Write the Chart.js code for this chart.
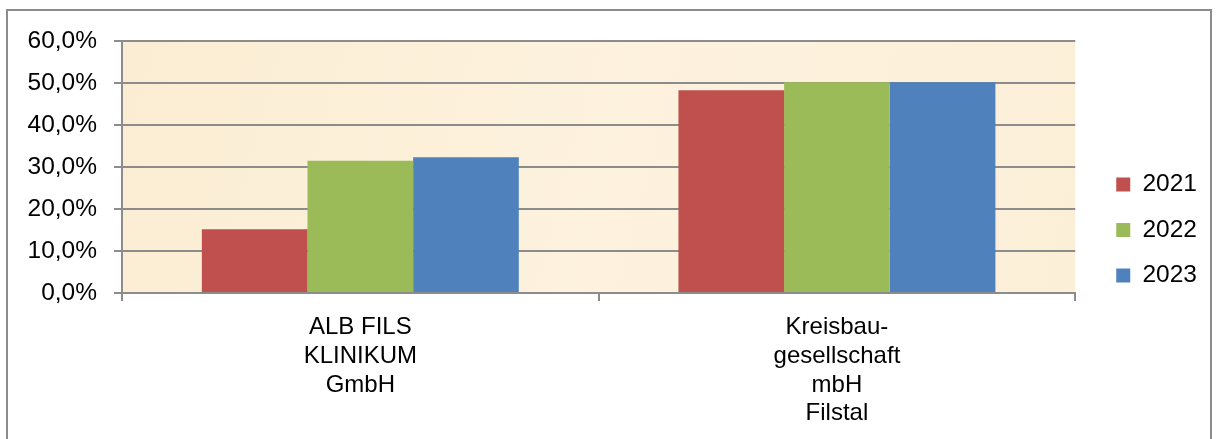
<!DOCTYPE html>
<html>
<head>
<meta charset="utf-8">
<script src="https://cdn.jsdelivr.net/npm/chart.js@4/dist/chart.umd.min.js"></script>
<style>
  html, body { margin: 0; padding: 0; background: #fff; }
  #wrap { position: relative; width: 1218px; height: 439px; }
</style>
</head>
<body>
<div id="wrap"><canvas id="chart" width="1218" height="439"></canvas></div>
<script>
var categories = [
  ["ALB FILS", "KLINIKUM", "GmbH"],
  ["Kreisbau-", "gesellschaft", "mbH", "Filstal"]
]
var years = ["2021", "2022", "2023"]
var values2021 = [15.2, 48.3]
var values2022 = [31.5, 50.2]
var values2023 = [32.3, 50.2]
var colors = ["#C0504D", "#9BBB59", "#4F81BD"]

Chart.defaults.font.family = "'Liberation Sans', Arial, sans-serif"
Chart.defaults.font.size = 24.5
Chart.defaults.color = "#000"

// frame + parchment fill behind the plot
var backdrop = {
  id: "backdrop",
  beforeDraw: function(chart) {
    var ctx = chart.ctx, a = chart.chartArea
    ctx.save()
    var g = ctx.createLinearGradient(a.left, a.top, a.right, a.bottom)
    g.addColorStop(0, "#FBEDD3")
    g.addColorStop(0.5, "#FDF2DE")
    g.addColorStop(1, "#FCEFD8")
    ctx.fillStyle = g
    ctx.fillRect(a.left, a.top, a.right - a.left, a.bottom - a.top)
    ctx.strokeStyle = "#8c8c8c"
    ctx.lineWidth = 2
    ctx.strokeRect(7, 10, 1204, 440)
    ctx.restore()
  },
  afterLayout: function(chart) {
    // push legend items a bit further from the plot, and up a little
    chart.legend.left += 20
    chart.legend.right += 20
    chart.legend.top -= 10
    chart.legend.bottom -= 10
  }
}

var data = {
  labels: categories,
  datasets: [
    { label: years[0], data: values2021, backgroundColor: colors[0] },
    { label: years[1], data: values2022, backgroundColor: colors[1] },
    { label: years[2], data: values2023, backgroundColor: colors[2] }
  ]
}

new Chart(document.getElementById("chart"), {
  type: "bar",
  data: data,
  plugins: [backdrop],
  options: {
    responsive: false,
    animation: false,
    layout: { padding: { left: 0, top: 41, right: 31, bottom: 0 } },
    datasets: { bar: { categoryPercentage: 0.665, barPercentage: 1, borderWidth: 0 } },
    plugins: {
      tooltip: { enabled: false },
      legend: {
        position: "right",
        labels: { boxWidth: 14, boxHeight: 14, padding: 21 }
      }
    },
    scales: {
      x: {
        grid: { drawOnChartArea: false, drawTicks: true, tickLength: 8, color: "#8c8c8c", lineWidth: 2 },
        border: { color: "#8c8c8c", width: 2 },
        ticks: { padding: 12, maxRotation: 0, autoSkip: false, font: { size: 24, lineHeight: 1.2 } },
        afterFit: function(s) { s.height = 146 }
      },
      y: {
        min: 0,
        max: 60,
        grid: { color: "#8c8c8c", lineWidth: 2, tickLength: 8 },
        border: { color: "#8c8c8c", width: 2 },
        ticks: {
          stepSize: 10,
          padding: 17,
          callback: function(v) { return v.toFixed(1).replace(".", ",") + "%" }
        },
        afterFit: function(s) { s.width = 122 }
      }
    }
  }
})
</script>
</body>
</html>
